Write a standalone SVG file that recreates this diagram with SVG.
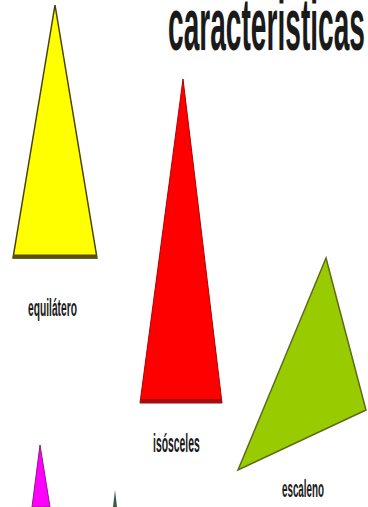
<svg xmlns="http://www.w3.org/2000/svg" width="368" height="507" viewBox="0 0 368 507">
<style>
.lbl{font-family:"Liberation Sans",Arial,sans-serif;font-weight:bold;fill:#1a1a1a}
.tri{stroke-linejoin:miter}
</style>
<rect width="368" height="507" fill="#ffffff"/>
<g id="title"><text class="lbl" transform="translate(168,50) scale(0.38,1)" font-size="74" fill="#000">caracteristicas</text></g>
<g id="equilatero">
<polygon class="tri" points="55,5 97,258 13,258" fill="#ffff00" stroke="#4a4208" stroke-width="1.5"/>
<line x1="13" y1="256.5" x2="97" y2="256.5" stroke="#5a4e10" stroke-width="4"/>
<text class="lbl" transform="translate(28,316) scale(0.427,1)" font-size="24">equilátero</text>
</g>
<g id="isosceles">
<polygon class="tri" points="183,79 222,403 140,403" fill="#ff0000" stroke="#b00000" stroke-width="1"/>
<line x1="140" y1="401" x2="222" y2="401" stroke="#a01010" stroke-width="4"/>
<text class="lbl" transform="translate(153,452) scale(0.40,1)" font-size="26">isósceles</text>
</g>
<g id="escaleno">
<polygon class="tri" points="326,258 366,410 238,470" fill="#99cc00" stroke="#5c6b1a" stroke-width="1.5"/>
<text class="lbl" transform="translate(282,497) scale(0.427,1)" font-size="23">escaleno</text>
</g>
<g id="magenta">
<polygon points="40,445 50,507 32,507" fill="#ff00ff" stroke="#8a1a8a" stroke-width="1"/>
</g>
<g id="partial">
<polygon points="115,490 117,507 113,507" fill="#3a5a3a"/>
</g>
<g id="connectors"></g>
</svg>
